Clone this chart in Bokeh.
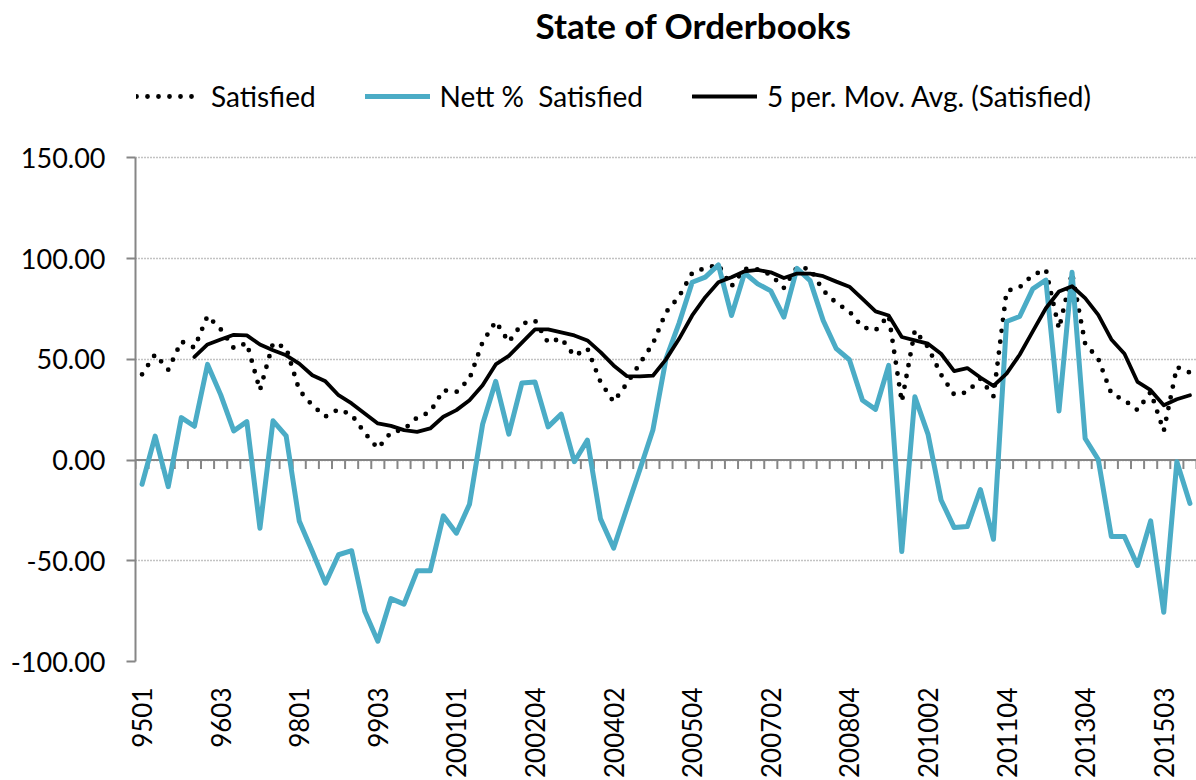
import math
from bokeh.plotting import figure
from bokeh.models import (Range1d, FixedTicker, NumeralTickFormatter, Legend,
                          LegendItem, Title, Span)
from bokeh.embed import file_html
from bokeh.resources import INLINE

# ---------------- data ----------------
categories = [
    "9501", "9502", "9503", "9504", "9601", "9602", "9603", "9604", "9701", "9702",
    "9703", "9704", "9801", "9802", "9803", "9804", "9901", "9902", "9903", "9904",
    "200001", "200002", "200003", "200004", "200101", "200102", "200103", "200104", "200201", "200203",
    "200204", "200301", "200302", "200303", "200304", "200401", "200402", "200403", "200404", "200501",
    "200502", "200503", "200504", "200601", "200602", "200603", "200604", "200701", "200702", "200703",
    "200704", "200801", "200802", "200803", "200804", "200901", "200902", "200903", "200904", "201001",
    "201002", "201003", "201004", "201101", "201102", "201103", "201104", "201201", "201202", "201204",
    "201301", "201303", "201304", "201401", "201402", "201403", "201404", "201502", "201503", "201504",
    "201601",
]

satisfied = [
    42.6, 52.5, 44.9, 58.9, 55.8, 71.6, 65.0, 55.6, 58.1, 34.7,
    58.1, 55.8, 34.7, 27.2, 21.6, 25.2, 22.5, 13.5, 5.8, 13.7,
    15.3, 21.1, 23.9, 34.7, 33.8, 40.4, 58.6, 68.8, 58.6, 67.7,
    69.3, 58.3, 60.5, 51.7, 55.4, 38.8, 28.9, 37.9, 47.9, 57.8,
    73.4, 81.2, 92.9, 95.4, 96.9, 86.3, 94.9, 94.6, 92.0, 85.5,
    95.7, 94.9, 84.2, 78.0, 73.8, 66.0, 64.4, 71.8, 28.9, 64.4,
    56.1, 42.4, 32.5, 33.7, 40.4, 31.7, 83.9, 85.8, 91.9, 94.6,
    65.2, 92.9, 57.8, 50.3, 33.0, 29.7, 24.8, 33.8, 14.4, 46.2,
    43.4,
]

nett_satisfied = [
    -12.0, 11.9, -13.2, 21.1, 16.8, 47.5, 32.5, 14.5, 19.1, -33.8,
    19.5, 12.0, -30.2, -45.4, -61.1, -47.0, -45.0, -75.1, -89.9, -68.8,
    -71.5, -55.0, -55.0, -27.7, -36.3, -21.9, 17.8, 39.1, 12.9, 38.3,
    38.8, 16.5, 22.8, -0.8, 9.9, -29.2, -43.7, -24.2, -4.8, 14.9,
    50.3, 68.0, 88.3, 90.8, 96.9, 71.8, 92.9, 87.5, 84.0, 71.0,
    95.2, 89.1, 69.3, 55.3, 49.8, 29.7, 25.2, 47.0, -45.4, 31.4,
    12.9, -19.8, -33.5, -33.0, -14.6, -39.3, 68.8, 71.3, 85.0, 89.4,
    24.4, 93.2, 10.7, 0.3, -38.0, -38.0, -52.3, -30.2, -75.6, -0.8,
    -21.5,
]

mov_avg_5 = [
    None, None, None, None, 51.2, 57.4, 59.9, 62.2, 61.9, 57.4,
    54.5, 52.0, 47.9, 42.1, 39.1, 32.2, 28.1, 23.1, 18.2, 17.0,
    14.9, 14.0, 15.7, 21.5, 24.8, 29.7, 37.1, 47.5, 51.7, 58.3,
    64.9, 64.9, 63.4, 61.9, 59.4, 53.6, 47.0, 41.7, 41.6, 41.9,
    50.0, 60.2, 71.8, 80.9, 88.3, 90.8, 93.7, 94.4, 93.2, 90.4,
    92.6, 92.6, 91.3, 88.6, 86.1, 80.0, 73.8, 71.8, 61.1, 59.4,
    57.8, 52.8, 44.2, 45.7, 41.0, 36.8, 42.9, 52.3, 63.9, 75.4,
    83.7, 86.3, 80.4, 72.1, 59.9, 52.8, 38.8, 34.7, 27.2, 30.2,
    32.2,
]

y_ticks = [-100, -50, 0, 50, 100, 150]
label_step = 6

series_names = ["Satisfied", "Nett %  Satisfied", "5 per. Mov. Avg. (Satisfied)"]
title_text = "State of Orderbooks"

# ---------------- layout constants ----------------
FONT = "Lato"
AXIS_GREY = "#868686"
W, H = 1196, 780
TOP, BOTTOM, LEFT = 45, 116, 135
PLOT_TOP_PX = 158          # where the 150 line sits (px from top)

frame_h = H - TOP - BOTTOM
y0, y1 = y_ticks[0], y_ticks[-1]
gap = PLOT_TOP_PX - TOP
# extend the y range above the top tick to leave room for the legend
y_end = (y1 * frame_h - y0 * gap) / (frame_h - gap)
px_per_unit = frame_h / (y_end - y0)

idx = list(range(len(categories)))
ma_x = [i for i, v in zip(idx, mov_avg_5) if v is not None]
ma_y = [v for v in mov_avg_5 if v is not None]

p = figure(width=W, height=H,
           x_range=Range1d(-0.5, len(categories) - 0.5),
           y_range=Range1d(y0, y_end),
           output_backend="svg", toolbar_location=None, title=None,
           min_border_left=LEFT, min_border_right=0,
           min_border_top=TOP, min_border_bottom=BOTTOM)
p.outline_line_color = None
p.background_fill_color = "white"
p.border_fill_color = "white"

# grid
p.xgrid.visible = False
p.ygrid.ticker = FixedTicker(ticks=y_ticks)
p.ygrid.grid_line_color = AXIS_GREY
p.ygrid.grid_line_dash = "1 2"
p.ygrid.grid_line_width = 1.4

# y axis
yax = p.yaxis[0]
yax.ticker = FixedTicker(ticks=y_ticks)
yax.bounds = (y0, y1)
yax.formatter = NumeralTickFormatter(format="0.00")
yax.major_label_text_font = FONT
yax.major_label_text_font_size = "27px"
yax.major_label_text_color = "black"
yax.axis_line_color = AXIS_GREY
yax.axis_line_width = 2
yax.major_tick_line_color = AXIS_GREY
yax.major_tick_line_width = 2
yax.major_tick_out = 9
yax.major_tick_in = 0
yax.minor_tick_line_color = None
yax.major_label_standoff = 21

# x axis (labels only, every 6th category)
xax = p.xaxis[0]
label_ticks = list(range(0, len(categories), label_step))
xax.ticker = FixedTicker(ticks=label_ticks)
xax.major_label_overrides = {i: categories[i] for i in label_ticks}
xax.major_label_orientation = math.pi / 2
xax.major_label_text_font = FONT
xax.major_label_text_font_size = "26px"
xax.major_label_text_color = "black"
xax.axis_line_color = None
xax.major_tick_line_color = None
xax.minor_tick_line_color = None
xax.major_label_standoff = 20

# zero line with category tick marks
zero_line = Span(location=0, dimension="width", line_color=AXIS_GREY,
                 line_width=2, level="underlay")
p.add_layout(zero_line)
bounds = [i - 0.5 for i in range(len(categories) + 1)]
tick_len = 9 / px_per_unit
p.segment(x0=bounds, y0=[0] * len(bounds), x1=bounds,
          y1=[-tick_len] * len(bounds), line_color=AXIS_GREY, line_width=2)

# series
r_sat = p.line(idx, satisfied, line_color="black", line_width=4.8,
               line_dash="0 11", line_cap="round", line_join="round")
r_nett = p.line(idx, nett_satisfied, line_color="#4BACC6", line_width=5,
                line_cap="round", line_join="round")
r_ma = p.line(ma_x, ma_y, line_color="black", line_width=3.8,
              line_cap="round", line_join="round")

legend_h = 34
legend_center_from_bottom = (H - BOTTOM) - 99
legend = Legend(items=[LegendItem(label=series_names[0], renderers=[r_sat]),
                       LegendItem(label=series_names[1], renderers=[r_nett]),
                       LegendItem(label=series_names[2], renderers=[r_ma])],
                orientation="horizontal",
                location=(1, legend_center_from_bottom - legend_h // 2),
                margin=0, padding=0, spacing=49,
                glyph_width=65, glyph_height=legend_h, label_height=legend_h,
                label_standoff=10, label_text_font=FONT,
                label_text_font_size="28px", label_text_color="black",
                border_line_color=None, background_fill_alpha=0)
p.add_layout(legend, "center")

title = Title(text=title_text, align="left", offset=400,
              text_font=FONT, text_font_size="35px", text_font_style="bold",
              text_color="black", standoff=0)
p.add_layout(title, "above")

html = file_html(p, INLINE, title="State of Orderbooks")
with open("out.html", "w") as f:
    f.write(html)
